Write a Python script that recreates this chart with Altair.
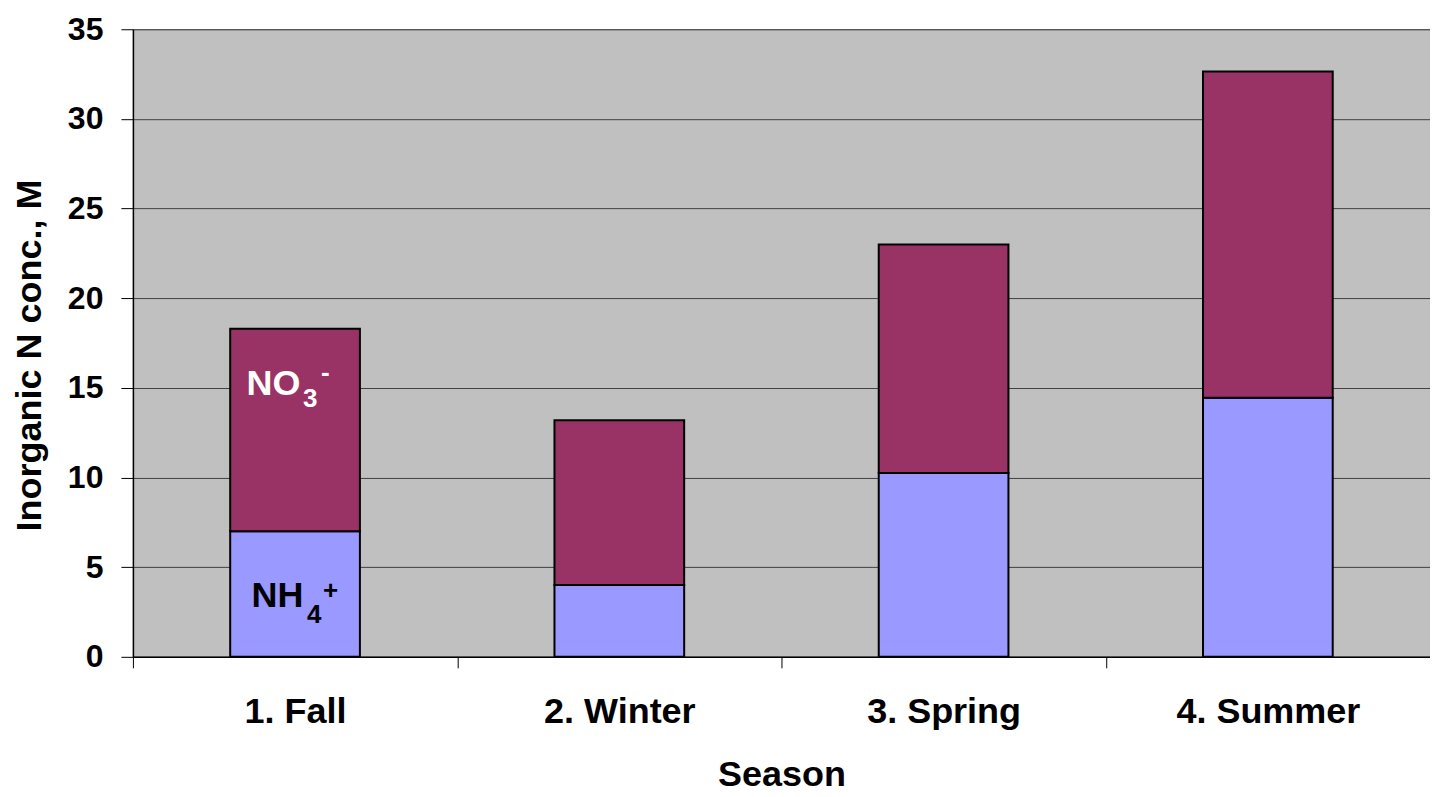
import altair as alt
import pandas as pd

seasons = ["1. Fall", "2. Winter", "3. Spring", "4. Summer"]
nh4 = [7.0, 4.0, 10.25, 14.45]
no3 = [11.3, 9.2, 12.75, 18.2]
ions = ["NH4", "NO3"]
ion_colors = ["#9999FF", "#993366"]
y_ticks = [0, 5, 10, 15, 20, 25, 30, 35]

label_season = "1. Fall"
no3_label_y = 14.6
nh4_label_y = 2.8

FONT = "Liberation Sans"

rows = []
for s, a, b in zip(seasons, nh4, no3):
    rows.append({"season": s, "ion": "NH4", "value": a, "ord": 0})
    rows.append({"season": s, "ion": "NO3", "value": b, "ord": 1})
df = pd.DataFrame(rows)

x_enc = alt.X(
    "season:N",
    sort=seasons,
    scale=alt.Scale(paddingInner=0, paddingOuter=0),
    axis=alt.Axis(
        title="Season",
        tickBand="extent",
        grid=False,
        labelAngle=0,
        labelLimit=0,
        labelFont=FONT,
        labelFontWeight="bold",
        labelFontSize=36,
        labelColor="black",
        labelBaseline="alphabetic",
        labelPadding=55,
        tickSize=11,
        tickColor="black",
        domainColor="black",
        domainWidth=1.5,
        titleFont=FONT,
        titleFontWeight="bold",
        titleFontSize=36,
        titleColor="black",
        titleBaseline="alphabetic",
        titleY=129,
    ),
)

y_enc = alt.Y(
    "value:Q",
    stack="zero",
    scale=alt.Scale(domain=[0, 35], nice=False),
    axis=alt.Axis(
        title="Inorganic N conc., M",
        values=y_ticks,
        grid=True,
        gridColor="#404040",
        gridWidth=1,
        labelFont=FONT,
        labelFontWeight="bold",
        labelFontSize=32,
        labelColor="black",
        labelPadding=18,
        tickSize=12,
        tickColor="black",
        domainColor="black",
        domainWidth=1.5,
        titleFont=FONT,
        titleFontWeight="bold",
        titleFontSize=36,
        titleColor="black",
        titleBaseline="alphabetic",
        titleAngle=270,
        titleX=-92,
        titleY=326,
    ),
)

bars = alt.Chart(df).mark_bar(
    stroke="black", strokeWidth=2, width=alt.RelativeBandSize(0.4)
).encode(
    x=x_enc,
    y=y_enc,
    color=alt.Color("ion:N", scale=alt.Scale(domain=ions, range=ion_colors), legend=None),
    order=alt.Order("ord:Q", sort="ascending"),
)


def txt(text, yval, dx, dy, size, color):
    d = pd.DataFrame({"season": [label_season], "value": [yval], "t": [text]})
    return alt.Chart(d).mark_text(
        align="left", baseline="alphabetic", dx=dx, dy=dy,
        font=FONT, fontWeight="bold", fontSize=size, color=color,
    ).encode(x=alt.X("season:N", sort=seasons), y=alt.Y("value:Q"), text="t:N")


labels = [
    txt("NO", no3_label_y, -48.5, 0, 36, "white"),
    txt("3", no3_label_y, 8, 12, 26, "white"),
    txt("-", no3_label_y, 26, -14, 26, "white"),
    txt("NH", nh4_label_y, -43.5, 0, 36, "black"),
    txt("4", nh4_label_y, 12, 16, 26, "black"),
    txt("+", nh4_label_y, 28, -8, 26, "black"),
]

chart = alt.layer(bars, *labels).properties(
    width=1298,
    height=628,
    autosize=alt.AutoSizeParams(type="none"),
    padding={"left": 125, "top": 21, "right": 0, "bottom": 140},
).configure_view(
    fill="#C0C0C0", stroke="#808080", strokeWidth=1
)

chart.save("out.html", embed_options={"renderer": "svg", "actions": False})
